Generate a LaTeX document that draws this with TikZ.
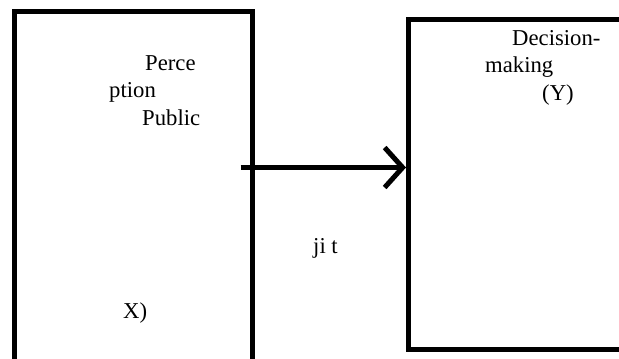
\documentclass[tikz,border=0pt]{standalone}
\usepackage{fontspec}
\setmainfont{Liberation Serif}
\usetikzlibrary{arrows.meta}
\tikzset{
  frame/.style={draw=black, line width=5pt, inner sep=0pt, outer sep=2.5pt, rectangle},
  label/.style={inner sep=0pt, anchor=base west, font=\fontsize{22.7}{26}\selectfont},
  link/.style={line width=5pt, -{Straight Barb[length=18pt,width=40pt]}}
}
\begin{document}
\begin{tikzpicture}[x=1pt, y=-1pt]
  % page area, y axis pointing down
  \useasboundingbox (0,0) rectangle (619,359);
  \fill[white] (0,0) rectangle (619,359);
  \clip (0,0) rectangle (619,359);

  % the two boxes (both run past the page edge)
  \node[frame, minimum width=238pt, minimum height=361pt] (X) at (133.5,192) {};
  \node[frame, minimum width=216pt, minimum height=330pt] (Y) at (516.5,184.5) {};

  % texts in the left box
  \node[label] (t1) at (145,70) {Perce};
  \node[label] (t2) at (109,97) {ption};
  \node[label] (t3) at (142,125) {Public};
  \node[label] (t4) at (123,318) {X)};

  % texts in the right box
  \node[label] (t5) at (512,45) {Decision-};
  \node[label] (t6) at (485,72) {making};
  \node[label] (t7) at (542,100) {(Y)};

  % text between the boxes
  \node[label] (t8) at (313,253) {ji t};

  % connector from X to Y
  \coordinate (a0) at (240.5,167.5);
  \draw[link] (a0) -- (a0 -| Y.west);
\end{tikzpicture}
\end{document}
